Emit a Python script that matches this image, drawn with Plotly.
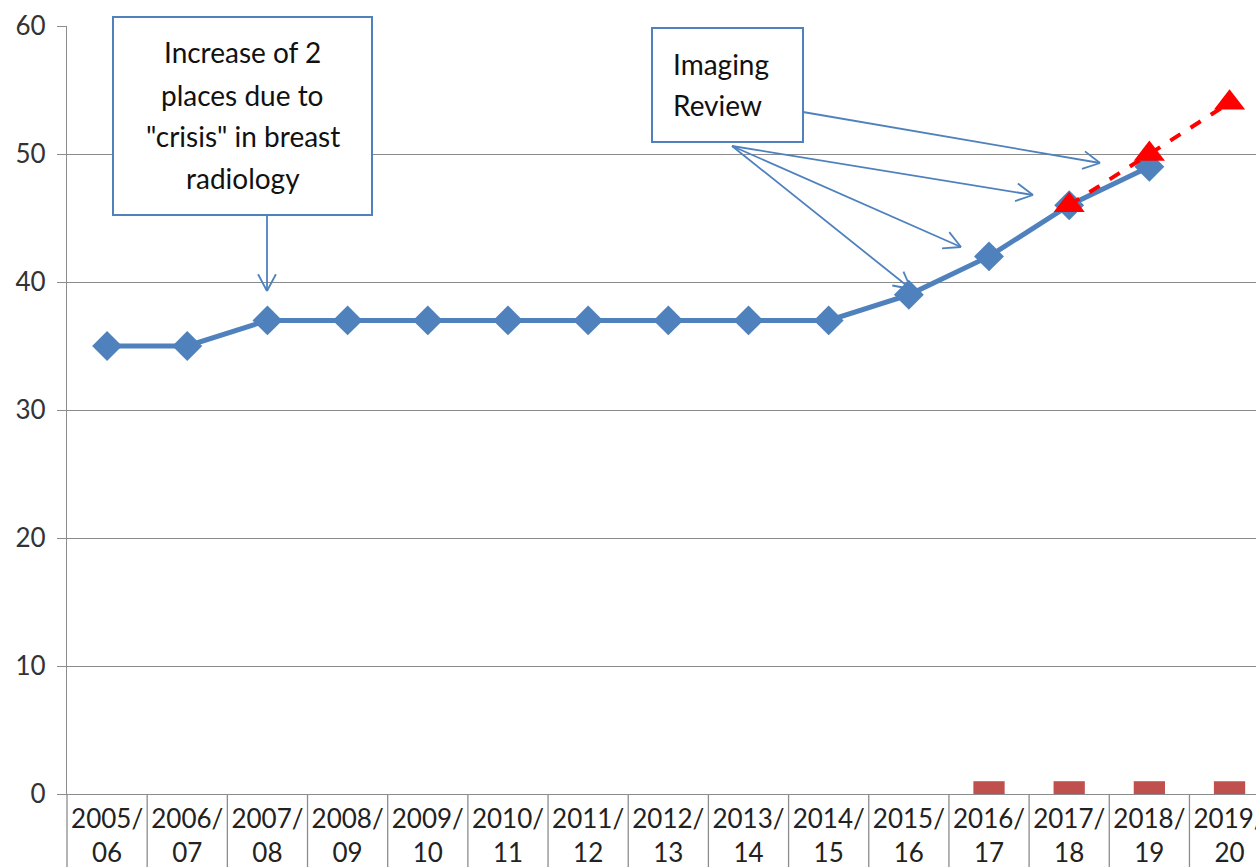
import plotly.graph_objects as go
import numpy as np

categories = ["2005/<br>06", "2006/<br>07", "2007/<br>08", "2008/<br>09", "2009/<br>10",
              "2010/<br>11", "2011/<br>12", "2012/<br>13", "2013/<br>14", "2014/<br>15",
              "2015/<br>16", "2016/<br>17", "2017/<br>18", "2018/<br>19", "2019/<br>20"]
actual_places = [35, 35, 37, 37, 37, 37, 37, 37, 37, 37, 39, 42, 46, 49, None]
projected_places = [None] * 12 + [46, 50, 54]
bar_values = [None] * 11 + [1, 1, 1, 1]
y_ticks = [0, 10, 20, 30, 40, 50, 60]
note1_lines = ["Increase of 2", "places due to", "\"crisis\" in breast", "radiology"]
note2_lines = ["Imaging", "Review"]

FONT = "Lato, Liberation Sans, sans-serif"
BLUE = "#4f81bd"
GRID = "#8c8c8c"

# plot-area pixel geometry (for annotation decorations)
PL, PR, PT, PB = 67, 1256, 26, 794
XMIN, XMAX = -0.5, 14.33


def px(x):
    return (x - PL) / (PR - PL)


def py(y):
    return (PB - y) / (PB - PT)


fig = go.Figure()
fig.add_trace(go.Bar(x=categories, y=bar_values, width=0.39, marker_color="#c0504d",
                     marker_line_width=0, showlegend=False))
fig.add_trace(go.Scatter(x=categories, y=actual_places, mode="lines+markers",
                         line=dict(color=BLUE, width=5),
                         marker=dict(symbol="diamond", size=23, color=BLUE),
                         showlegend=False))
fig.add_trace(go.Scatter(x=categories, y=projected_places, mode="lines+markers",
                         line=dict(color="#ff0000", width=4, dash="dash"),
                         marker=dict(symbol="triangle-up", size=27, color="#ff0000"),
                         showlegend=False))

shapes = []
# separators between category labels (table-like axis)
for b in np.arange(-0.5, 15, 1.0):
    if b > XMAX:
        continue
    xp = (b - XMIN) / (XMAX - XMIN)
    shapes.append(dict(type="line", xref="paper", yref="paper", x0=xp, x1=xp,
                       y0=0, y1=-(880 - PB) / (PB - PT),
                       line=dict(color=GRID, width=1.3)))

# note boxes
for (x0, y0, x1, y1) in [(113, 17, 372, 215), (652, 28, 803, 142)]:
    shapes.append(dict(type="rect", xref="paper", yref="paper",
                       x0=px(x0), x1=px(x1), y0=py(y0), y1=py(y1),
                       line=dict(color=BLUE, width=2), fillcolor="white", layer="above"))


def arrow(x0, y0, x1, y1, head=19, ang=28):
    out = [dict(type="line", xref="paper", yref="paper", x0=px(x0), y0=py(y0),
                x1=px(x1), y1=py(y1), line=dict(color=BLUE, width=1.8))]
    a = np.arctan2(y1 - y0, x1 - x0)
    for s in (-1, 1):
        t = a + np.pi + s * np.radians(ang)
        hx, hy = x1 + head * np.cos(t), y1 + head * np.sin(t)
        out.append(dict(type="line", xref="paper", yref="paper", x0=px(x1), y0=py(y1),
                        x1=px(hx), y1=py(hy), line=dict(color=BLUE, width=1.8)))
    return out


shapes += arrow(267, 215, 267, 291)
shapes += arrow(803, 112, 1100, 163)
shapes += arrow(732, 146, 1033, 195)
shapes += arrow(732, 146, 961, 247)
shapes += arrow(732, 146, 911, 289)

annotations = []
for txt, yc in zip(note1_lines, [52, 95, 136, 178]):
    annotations.append(dict(xref="paper", yref="paper", x=px(242.5), y=py(yc),
                            xanchor="center", yanchor="middle", text=txt, showarrow=False,
                            font=dict(family=FONT, size=28, color="#111")))
for txt, yc in zip(note2_lines, [64, 105]):
    annotations.append(dict(xref="paper", yref="paper", x=px(671), y=py(yc),
                            xanchor="left", yanchor="middle", text=txt, showarrow=False,
                            font=dict(family=FONT, size=28, color="#111")))

fig.update_layout(
    width=1256, height=867,
    margin=dict(l=PL, r=1256 - PR, t=PT, b=867 - PB, autoexpand=False),
    paper_bgcolor="white", plot_bgcolor="white",
    shapes=shapes, annotations=annotations,
    xaxis=dict(type="category", range=[XMIN, XMAX], showgrid=False,
               showline=True, linecolor=GRID, linewidth=1.3, ticks="",
               tickfont=dict(family=FONT, size=26, color="#222"),
               tickangle=0, ticklabelstandoff=2),
    yaxis=dict(range=[0, 60], tickvals=y_ticks, showgrid=True, gridcolor=GRID,
               gridwidth=1.3, zeroline=False, showline=True, linecolor=GRID,
               linewidth=1.3, ticks="outside", ticklen=9, tickcolor=GRID,
               tickfont=dict(family=FONT, size=26, color="#333"),
               ticklabelstandoff=6),
)

fig.write_html("out.html", config={"displayModeBar": False},
               post_script="document.body.style.margin='0';document.body.style.padding='0';"
                           "document.documentElement.style.overflow='hidden';")
